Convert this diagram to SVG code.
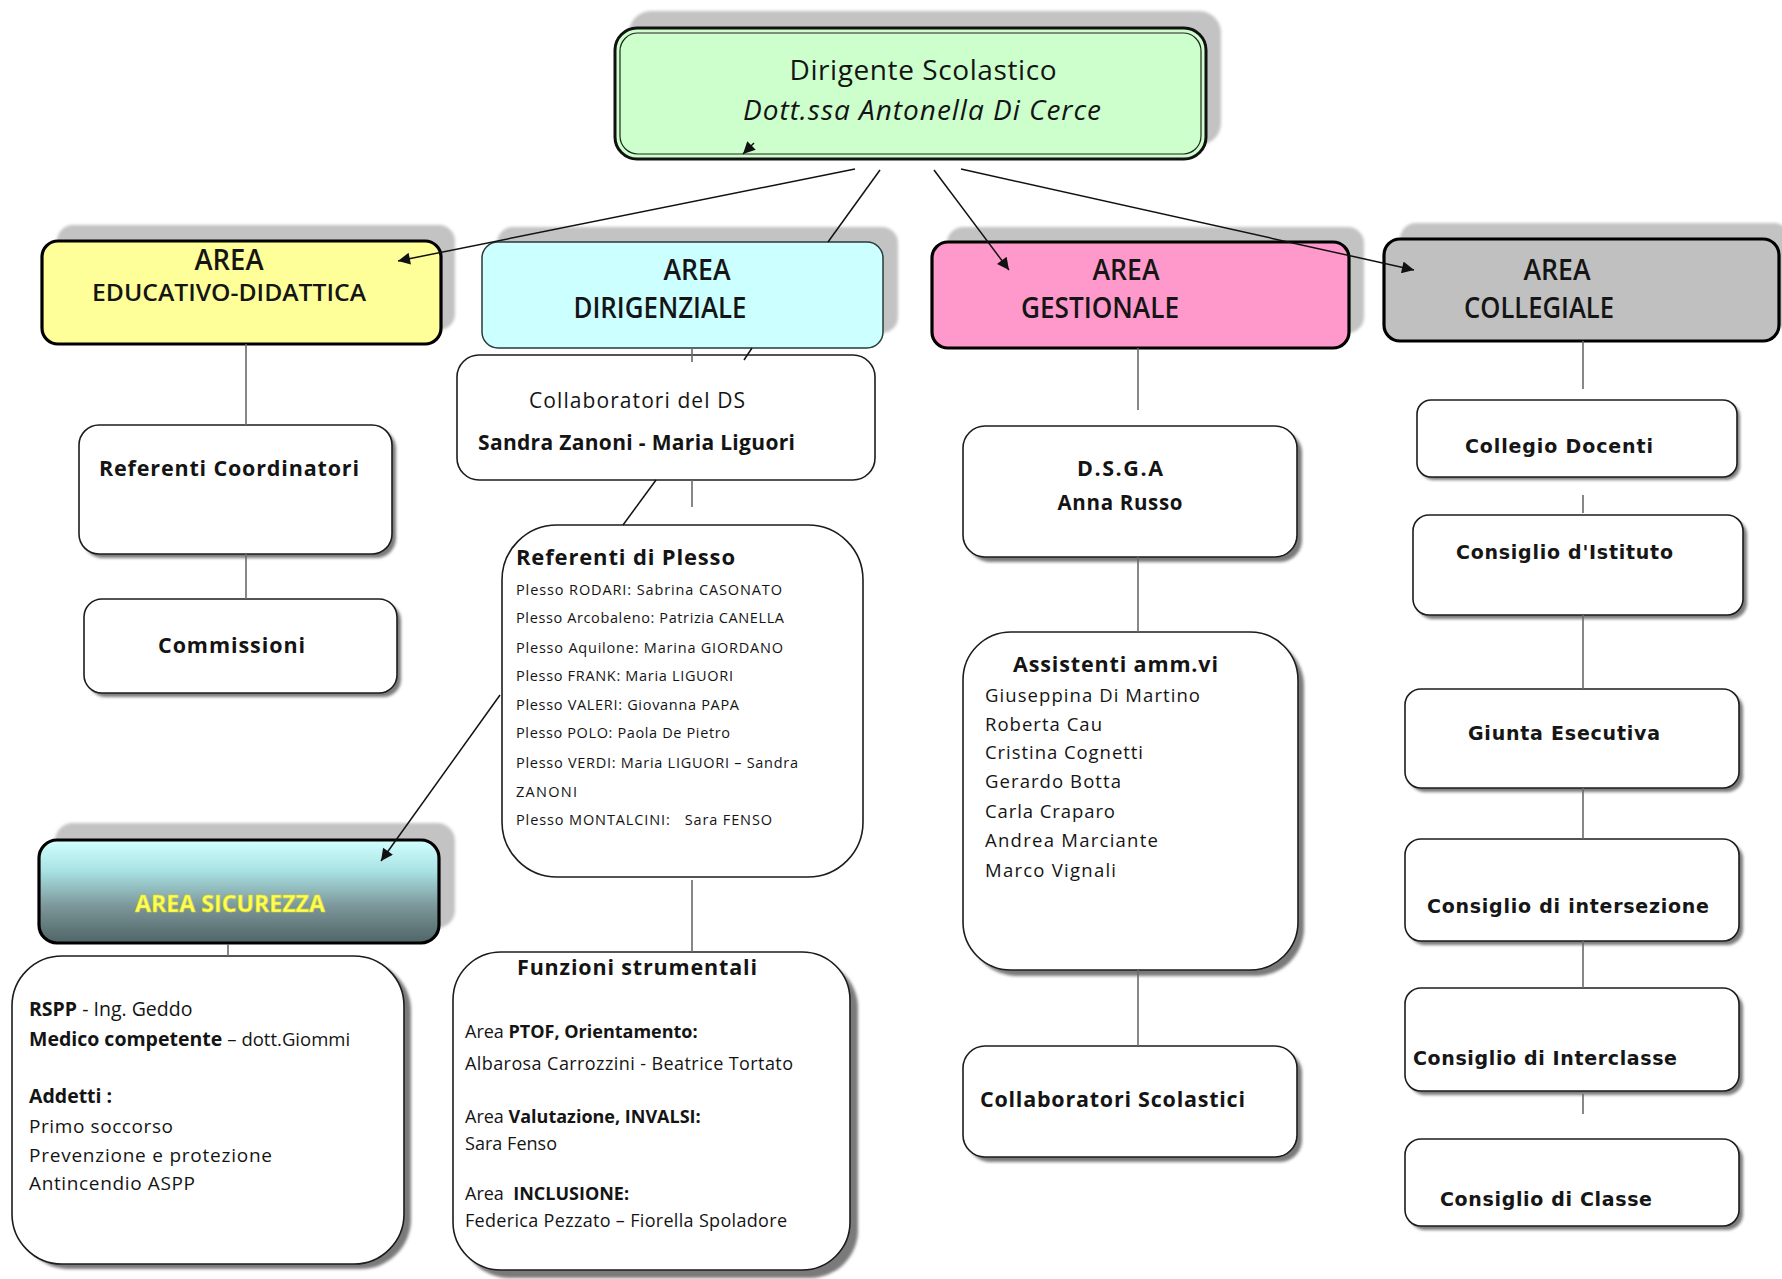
<svg xmlns="http://www.w3.org/2000/svg" width="1782" height="1279" viewBox="0 0 1782 1279">
<defs>
  <style>
    .t{font-family:"Open Sans","Noto Sans","Liberation Sans",sans-serif;fill:#141414}
    .b{font-weight:700}
    .h{font-family:"Open Sans","Noto Sans","Liberation Sans",sans-serif;fill:#151515;font-weight:600}
    .v{font-family:"DejaVu Sans","Liberation Sans",sans-serif;font-weight:700;fill:#161616;font-size:19px}
    .ash{fill:#c3c3c3;filter:url(#bl)}
    .wsh{fill:#7a7a7a;filter:url(#bl)}
    .wb{fill:#fff;stroke:#1c1c1c;stroke-width:1.6}
    .ab{stroke:#000;stroke-width:3.2}
    .conn{stroke:#111;stroke-width:1.5;fill:none}
    .vl{stroke:#6a6a6a;stroke-width:1.6;fill:none}
  </style>
  <filter id="bl" x="-5%" y="-5%" width="110%" height="110%"><feGaussianBlur stdDeviation="1.4"/></filter>
  <linearGradient id="sic" x1="0" y1="0" x2="0" y2="1">
    <stop offset="0" stop-color="#d2ffff"/>
    <stop offset="0.3" stop-color="#a9e2e4"/>
    <stop offset="0.65" stop-color="#7b9598"/>
    <stop offset="1" stop-color="#4f6466"/>
  </linearGradient>
  <marker id="ah" viewBox="0 0 10 10" refX="10" refY="5" markerWidth="14" markerHeight="12" markerUnits="userSpaceOnUse" orient="auto">
    <path d="M0,0 L10,5 L0,10 z" fill="#111"/>
  </marker>
</defs>
<rect width="1782" height="1279" fill="#fff"/>

<!-- Top node -->
<g id="dirigente">
  <rect class="ash" x="629" y="11" width="592" height="134" rx="22"/>
  <rect x="615" y="28" width="591" height="131" rx="22" fill="#ccffcc" stroke="#111" stroke-width="3"/>
  <rect x="620" y="33" width="581" height="121" rx="18" fill="none" stroke="#222" stroke-width="1.2"/>
  <text class="t" x="923" y="80" font-size="28" text-anchor="middle" textLength="267" font-weight="500">Dirigente Scolastico</text>
  <text class="t" x="922" y="120" font-size="28" font-style="italic" text-anchor="middle" textLength="358" font-weight="500">Dott.ssa Antonella Di Cerce</text>
</g>

<!-- Area boxes -->
<g id="area-educativo">
  <rect class="ash" x="57" y="225" width="398" height="105" rx="16"/>
  <rect class="ab" x="42" y="241" width="399" height="103" rx="16" fill="#ffff99"/>
  <text class="h" x="229" y="270" font-size="29" text-anchor="middle" textLength="69" lengthAdjust="spacingAndGlyphs">AREA</text>
  <text class="h" x="229" y="301" font-size="23" text-anchor="middle" textLength="274" lengthAdjust="spacingAndGlyphs">EDUCATIVO-DIDATTICA</text>
</g>
<g id="area-dirigenziale">
  <rect class="ash" x="497" y="227" width="401" height="106" rx="16"/>
  <rect x="482" y="242" width="401" height="106" rx="16" fill="#ccffff" stroke="#2a3a3a" stroke-width="1.5"/>
  <text class="h" x="697" y="280" font-size="29" text-anchor="middle" textLength="67" lengthAdjust="spacingAndGlyphs">AREA</text>
  <text class="h" x="660" y="318" font-size="29" text-anchor="middle" textLength="173" lengthAdjust="spacingAndGlyphs">DIRIGENZIALE</text>
</g>
<g id="area-gestionale">
  <rect class="ash" x="947" y="227" width="417" height="106" rx="16"/>
  <rect class="ab" x="932" y="242" width="417" height="106" rx="16" fill="#ff99cc"/>
  <text class="h" x="1126" y="280" font-size="29" text-anchor="middle" textLength="67" lengthAdjust="spacingAndGlyphs">AREA</text>
  <text class="h" x="1100" y="318" font-size="29" text-anchor="middle" textLength="158" lengthAdjust="spacingAndGlyphs">GESTIONALE</text>
</g>
<g id="area-collegiale">
  <rect class="ash" x="1400" y="223" width="390" height="107" rx="16"/>
  <rect class="ab" x="1384" y="239" width="395" height="102" rx="16" fill="#c0c0c0"/>
  <text class="h" x="1557" y="280" font-size="29" text-anchor="middle" textLength="67" lengthAdjust="spacingAndGlyphs">AREA</text>
  <text class="h" x="1539" y="318" font-size="29" text-anchor="middle" textLength="150" lengthAdjust="spacingAndGlyphs">COLLEGIALE</text>
</g>

<!-- Educativo column -->
<g id="referenti-coordinatori">
  <rect class="wsh" x="83" y="429" width="313" height="129" rx="20"/>
  <rect class="wb" x="79" y="425" width="313" height="129" rx="20"/>
  <text class="t b" x="99" y="476" font-size="21.5" textLength="260">Referenti Coordinatori</text>
</g>
<g id="commissioni">
  <rect class="wsh" x="88" y="603" width="313" height="94" rx="18"/>
  <rect class="wb" x="84" y="599" width="313" height="94" rx="18"/>
  <text class="t b" x="158" y="653" font-size="21.5" textLength="147">Commissioni</text>
</g>

<!-- Sicurezza -->
<g id="area-sicurezza">
  <rect class="ash" x="55" y="823" width="400" height="105" rx="18"/>
  <rect class="ab" x="39" y="840" width="400" height="103" rx="18" fill="url(#sic)"/>
  <text class="t b" x="230" y="912" font-size="24" text-anchor="middle" textLength="190" lengthAdjust="spacingAndGlyphs" stroke="#d8d820" stroke-width="0.6" style="fill:#ffff55">AREA SICUREZZA</text>
</g>
<g id="sicurezza-dettaglio">
  <rect class="wsh" x="19" y="961" width="392" height="308" rx="50"/>
  <rect class="wb" x="12" y="956" width="392" height="308" rx="50"/>
  <text class="t" x="29" y="1016" font-size="19.5"><tspan class="b">RSPP</tspan> - Ing. Geddo</text>
  <text class="t" x="29" y="1046" font-size="19.5"><tspan class="b">Medico competente</tspan> <tspan font-size="18.5">– dott.Giommi</tspan></text>
  <text class="t b" x="29" y="1103" font-size="19.5">Addetti :</text>
  <text class="t" x="29" y="1133" font-size="19" textLength="144">Primo soccorso</text>
  <text class="t" x="29" y="1162" font-size="19" textLength="243">Prevenzione e protezione</text>
  <text class="t" x="29" y="1190" font-size="19" textLength="166">Antincendio ASPP</text>
</g>

<!-- Dirigenziale column -->
<g id="collaboratori-ds">
  <rect class="wb" x="457" y="355" width="418" height="125" rx="22"/>
  <text class="t" x="529" y="408" font-size="21" textLength="216">Collaboratori del DS</text>
  <text class="t b" x="478" y="450" font-size="21" textLength="317">Sandra Zanoni - Maria Liguori</text>
</g>
<g id="referenti-plesso">
  <rect class="wb" x="502" y="525" width="361" height="352" rx="55"/>
  <text class="t b" x="516" y="565" font-size="22" textLength="219">Referenti di Plesso</text>
  <g class="t" font-size="14.5">
    <text x="516" y="595" textLength="266">Plesso RODARI: Sabrina CASONATO</text>
    <text x="516" y="623" textLength="268">Plesso Arcobaleno: Patrizia CANELLA</text>
    <text x="516" y="653" textLength="267">Plesso Aquilone: Marina GIORDANO</text>
    <text x="516" y="681" textLength="217">Plesso FRANK: Maria LIGUORI</text>
    <text x="516" y="710" textLength="223">Plesso VALERI: Giovanna PAPA</text>
    <text x="516" y="738" textLength="214">Plesso POLO: Paola De Pietro</text>
    <text x="516" y="768" textLength="282">Plesso VERDI: Maria LIGUORI – Sandra</text>
    <text x="516" y="797" textLength="61">ZANONI</text>
    <text x="516" y="825" textLength="256" xml:space="preserve">Plesso MONTALCINI:   Sara FENSO</text>
  </g>
</g>
<g id="funzioni-strumentali">
  <rect class="wsh" x="461" y="960" width="397" height="318" rx="48"/>
  <rect class="wb" x="453" y="952" width="397" height="318" rx="48"/>
  <text class="t b" x="517" y="975" font-size="21.5" textLength="240">Funzioni strumentali</text>
  <text class="t" x="465" y="1038" font-size="18">Area <tspan class="b">PTOF, Orientamento:</tspan></text>
  <text class="t" x="465" y="1070" font-size="18" textLength="328">Albarosa Carrozzini - Beatrice Tortato</text>
  <text class="t" x="465" y="1123" font-size="18">Area <tspan class="b">Valutazione, INVALSI:</tspan></text>
  <text class="t" x="465" y="1150" font-size="18" textLength="92">Sara Fenso</text>
  <text class="t" x="465" y="1200" font-size="18" xml:space="preserve">Area  <tspan class="b">INCLUSIONE:</tspan></text>
  <text class="t" x="465" y="1227" font-size="18" textLength="322">Federica Pezzato – Fiorella Spoladore</text>
</g>

<!-- Gestionale column -->
<g id="dsga">
  <rect class="wsh" x="968" y="431" width="334" height="131" rx="22"/>
  <rect class="wb" x="963" y="426" width="334" height="131" rx="22"/>
  <text class="t b" x="1120" y="476" font-size="21.5" text-anchor="middle" textLength="86">D.S.G.A</text>
  <text class="t b" x="1120" y="510" font-size="20.5" text-anchor="middle" textLength="125">Anna Russo</text>
</g>
<g id="assistenti">
  <rect class="wsh" x="969" y="638" width="335" height="338" rx="48"/>
  <rect class="wb" x="963" y="632" width="335" height="338" rx="48"/>
  <text class="t b" x="1013" y="672" font-size="21.5" textLength="205">Assistenti amm.vi</text>
  <g class="t" font-size="18.5">
    <text x="985" y="702" textLength="215">Giuseppina Di Martino</text>
    <text x="985" y="731" textLength="117">Roberta Cau</text>
    <text x="985" y="759" textLength="158">Cristina Cognetti</text>
    <text x="985" y="788" textLength="136">Gerardo Botta</text>
    <text x="985" y="818" textLength="130">Carla Craparo</text>
    <text x="985" y="847" textLength="173">Andrea Marciante</text>
    <text x="985" y="877" textLength="131">Marco Vignali</text>
  </g>
</g>
<g id="collaboratori-scolastici">
  <rect class="wsh" x="968" y="1051" width="334" height="111" rx="22"/>
  <rect class="wb" x="963" y="1046" width="334" height="111" rx="22"/>
  <text class="t b" x="980" y="1107" font-size="21.5" textLength="265">Collaboratori Scolastici</text>
</g>

<!-- Collegiale column -->
<g id="collegio-docenti">
  <rect class="wsh" x="1420" y="403" width="320" height="77" rx="14"/>
  <rect class="wb" x="1417" y="400" width="320" height="77" rx="14"/>
  <text class="v" x="1465" y="453" textLength="188">Collegio Docenti</text>
</g>
<g id="consiglio-istituto">
  <rect class="wsh" x="1417" y="519" width="330" height="100" rx="16"/>
  <rect class="wb" x="1413" y="515" width="330" height="100" rx="16"/>
  <text class="v" x="1456" y="559" textLength="217">Consiglio d'Istituto</text>
</g>
<g id="giunta-esecutiva">
  <rect class="wsh" x="1409" y="693" width="334" height="99" rx="16"/>
  <rect class="wb" x="1405" y="689" width="334" height="99" rx="16"/>
  <text class="v" x="1468" y="740" textLength="192">Giunta Esecutiva</text>
</g>
<g id="consiglio-intersezione">
  <rect class="wsh" x="1409" y="843" width="334" height="102" rx="16"/>
  <rect class="wb" x="1405" y="839" width="334" height="102" rx="16"/>
  <text class="v" x="1427" y="913" textLength="282">Consiglio di intersezione</text>
</g>
<g id="consiglio-interclasse">
  <rect class="wsh" x="1409" y="992" width="334" height="103" rx="16"/>
  <rect class="wb" x="1405" y="988" width="334" height="103" rx="16"/>
  <text class="v" x="1413" y="1065" textLength="264">Consiglio di Interclasse</text>
</g>
<g id="consiglio-classe">
  <rect class="wsh" x="1409" y="1143" width="334" height="87" rx="16"/>
  <rect class="wb" x="1405" y="1139" width="334" height="87" rx="16"/>
  <text class="v" x="1440" y="1206" textLength="212">Consiglio di Classe</text>
</g>

<!-- Connectors -->
<g id="connectors">
  <line class="conn" x1="855" y1="169" x2="398" y2="261" marker-end="url(#ah)"/>
  <line class="conn" x1="934" y1="170" x2="1009" y2="270" marker-end="url(#ah)"/>
  <line class="conn" x1="961" y1="169" x2="1414" y2="270" marker-end="url(#ah)"/>
  <line class="conn" x1="880" y1="170" x2="828" y2="242"/>
  <line class="conn" x1="752" y1="348" x2="744" y2="360"/>
  <line class="conn" x1="656" y1="480" x2="623" y2="525"/>
  <line class="conn" x1="500" y1="695" x2="381" y2="861" marker-end="url(#ah)"/>
  <line class="conn" x1="754" y1="143" x2="743" y2="154" marker-end="url(#ah)"/>
  <line class="vl" x1="246" y1="344" x2="246" y2="425"/>
  <line class="vl" x1="246" y1="554" x2="246" y2="599"/>
  <line class="vl" x1="692" y1="348" x2="692" y2="362"/>
  <line class="vl" x1="692" y1="480" x2="692" y2="507"/>
  <line class="vl" x1="692" y1="880" x2="692" y2="952"/>
  <line class="vl" x1="228" y1="944" x2="228" y2="956"/>
  <line class="vl" x1="1138" y1="348" x2="1138" y2="410"/>
  <line class="vl" x1="1138" y1="557" x2="1138" y2="632"/>
  <line class="vl" x1="1138" y1="970" x2="1138" y2="1046"/>
  <line class="vl" x1="1583" y1="341" x2="1583" y2="389"/>
  <line class="vl" x1="1583" y1="495" x2="1583" y2="513"/>
  <line class="vl" x1="1583" y1="615" x2="1583" y2="689"/>
  <line class="vl" x1="1583" y1="788" x2="1583" y2="839"/>
  <line class="vl" x1="1583" y1="941" x2="1583" y2="988"/>
  <line class="vl" x1="1583" y1="1094" x2="1583" y2="1114"/>
</g>
</svg>
